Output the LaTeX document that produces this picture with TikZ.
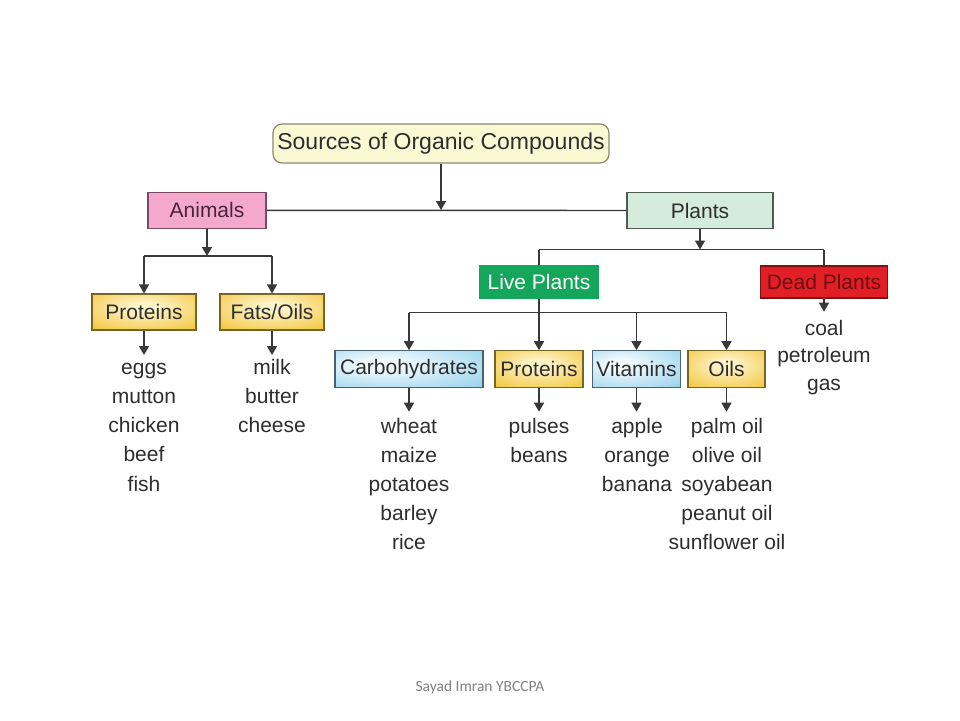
\documentclass[tikz,border=0pt]{standalone}
\usepackage{fontspec}
\setmainfont{Liberation Sans}
\newfontfamily\footfont{Carlito}
\usetikzlibrary{arrows.meta}
\definecolor{txt}{HTML}{2E2E2E}
\definecolor{lc}{HTML}{383838}
\definecolor{topfill}{HTML}{FBF9D4}
\definecolor{topdraw}{HTML}{8A8A6E}
\definecolor{pinkc}{HTML}{F4A9CC}
\definecolor{pinkd}{HTML}{7A4A62}
\definecolor{anitxt}{HTML}{4A2340}
\definecolor{greenl}{HTML}{D5EBDD}
\definecolor{greend}{HTML}{505A55}
\definecolor{liveg}{HTML}{14A65B}
\definecolor{deadr}{HTML}{E21F27}
\definecolor{deadd}{HTML}{7A1414}
\definecolor{deadt}{HTML}{6E0E10}
\definecolor{goldin}{HTML}{FDF3C8}
\definecolor{goldout}{HTML}{F1BF28}
\definecolor{golddraw}{HTML}{7A6424}
\definecolor{bluein}{HTML}{EEF8FD}
\definecolor{blueout}{HTML}{84CAE8}
\definecolor{bluedraw}{HTML}{4A6272}
\definecolor{footc}{HTML}{808080}
\pgfdeclareradialshading{goldsh}{\pgfpoint{0bp}{8bp}}{color(0bp)=(goldin); color(6bp)=(goldin); color(42bp)=(goldout); color(75bp)=(goldout)}
\pgfdeclareradialshading{bluesh}{\pgfpoint{-10bp}{8bp}}{color(0bp)=(bluein); color(8bp)=(bluein); color(48bp)=(blueout); color(80bp)=(blueout)}
\tikzset{
  box/.style={draw=greend, line width=1.2pt, inner sep=0pt, text=txt,
    font=\fontsize{21}{25}\selectfont, minimum height=36pt},
  goldbox/.style={box, shade, shading=goldsh, draw=golddraw},
  bluebox/.style={box, shade, shading=bluesh, draw=bluedraw},
  topbox/.style={box, fill=topfill, draw=topdraw, rounded corners=9pt,
    font=\fontsize{23}{27}\selectfont},
  conn/.style={draw=lc, line width=1.4pt},
  arr/.style={conn, -{Triangle[width=10pt,length=9pt]}},
  item/.style={anchor=base, inner sep=0pt, text=txt, font=\fontsize{21}{25}\selectfont},
}
\begin{document}
\begin{tikzpicture}[x=1pt,y=-1pt]
\useasboundingbox (0,0) rectangle (960,720);
\fill[white] (0,0) rectangle (960,720);

% boxes
\node[topbox, minimum width=336pt, minimum height=39pt] (src) at (441,143.5) {Sources of Organic Compounds};
\node[box, fill=pinkc, draw=pinkd, text=anitxt, minimum width=118pt] (animals) at (207,210.3) {Animals};
\node[box, fill=greenl, minimum width=146pt] (plants) at (700,210.5) {Plants};
\node[goldbox, minimum width=104pt] (pA) at (144,312) {Proteins};
\node[goldbox, minimum width=104pt] (fats) at (272,312) {Fats/Oils};
\node[box, fill=liveg, draw=liveg, text=white, minimum width=119pt, minimum height=32.5pt] (live) at (539,282) {Live Plants};
\node[box, fill=deadr, draw=deadd, text=deadt, minimum width=127pt, minimum height=32pt] (dead) at (824,282) {Dead Plants};
\node[bluebox, minimum width=148pt, minimum height=37pt] (carbo) at (409,369.3) {Carbohydrates};
\node[goldbox, minimum width=88pt, minimum height=37pt] (pP) at (539,369.3) {Proteins};
\node[bluebox, minimum width=88pt, minimum height=37pt] (vit) at (636.5,369.3) {Vitamins};
\node[goldbox, minimum width=77pt, minimum height=37pt] (oils) at (726.5,369.3) {Oils};

% junction coordinates
\coordinate (j0) at (441,210);
\coordinate (aj) at (207,256);
\coordinate (aL) at (144,256);
\coordinate (aR) at (272,256);
\coordinate (pj) at (700,249.5);
\coordinate (pL) at (539,249.5);
\coordinate (pR) at (824,249.5);
\coordinate (lL) at (409,312.7);
\coordinate (lV) at (636.5,312.7);
\coordinate (lR) at (726.5,312.7);
\coordinate (dt) at (824,311.7);
\coordinate (tA) at (144,355);
\coordinate (tF) at (272,355);
\coordinate (tC) at (409,411.7);
\coordinate (tP) at (539,411.7);
\coordinate (tV) at (636.5,411.7);
\coordinate (tO) at (726.5,411.7);

% connectors
\draw[arr] (src) -- (j0);
\draw[conn] (animals) -- (plants);
\draw[arr] (animals) -- (aj);
\draw[conn] (aL) -- (aR);
\draw[arr] (aL) -- (pA);
\draw[arr] (aR) -- (fats);
\draw[arr] (plants) -- (pj);
\draw[conn] (pL) -- (pR);
\draw[conn] (pL) -- (live);
\draw[conn] (pR) -- (dead);
\draw[arr] (live) -- (pP);
\draw[conn] (lL) -- (lR);
\draw[arr] (lL) -- (carbo);
\draw[arr] (lV) -- (vit);
\draw[arr] (lR) -- (oils);
\draw[arr] (dead) -- (dt);
\draw[arr] (pA) -- (tA);
\draw[arr] (fats) -- (tF);
\draw[arr] (carbo) -- (tC);
\draw[arr] (pP) -- (tP);
\draw[arr] (vit) -- (tV);
\draw[arr] (oils) -- (tO);

% lists
\foreach \w [count=\i from 0] in {eggs,mutton,chicken,beef,fish}
  \node[item] (an\i) at (144,{374.3+29.2*\i}) {\w};
\foreach \w [count=\i from 0] in {milk,butter,cheese}
  \node[item] (fa\i) at (272,{374.3+29.2*\i}) {\w};
\foreach \w [count=\i from 0] in {coal,petroleum,gas}
  \node[item] (de\i) at (824,{335+27.5*\i}) {\w};
\foreach \w [count=\i from 0] in {wheat,maize,potatoes,barley,rice}
  \node[item] (ca\i) at (409,{433.5+29*\i}) {\w};
\foreach \w [count=\i from 0] in {pulses,beans}
  \node[item] (pu\i) at (539,{433.5+29*\i}) {\w};
\foreach \w [count=\i from 0] in {apple,orange,banana}
  \node[item] (vi\i) at (637,{433.5+29*\i}) {\w};
\foreach \w [count=\i from 0] in {palm oil,olive oil,soyabean,peanut oil,sunflower oil}
  \node[item] (oi\i) at (727,{433.5+29*\i}) {\w};

% footer
\node[inner sep=0pt, text=footc, font=\footfont\fontsize{15.5}{18}\selectfont] (foot) at (480,687) {Sayad Imran YBCCPA};
\end{tikzpicture}
\end{document}
